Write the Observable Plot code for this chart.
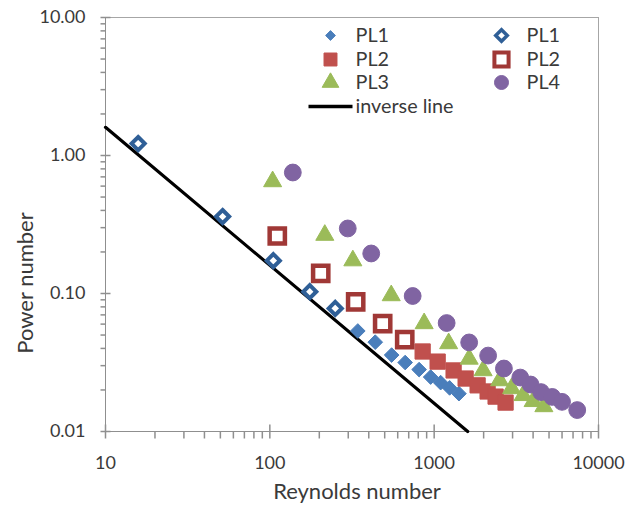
<!DOCTYPE html>
<html>
<head>
<meta charset="utf-8">
<script src="https://cdn.jsdelivr.net/npm/d3@7"></script>
<script src="https://cdn.jsdelivr.net/npm/@observablehq/plot@0.6"></script>
<style>
  html, body { margin: 0; padding: 0; background: #fff; }
  #chart { width: 635px; height: 505px; }
</style>
</head>
<body>
<div id="chart"></div>
<script>
// ---- data ----
const rePL1 = [343, 438, 551, 666, 810, 952, 1095, 1242, 1415];
const poPL1 = [0.0535, 0.0444, 0.0358, 0.0316, 0.0281, 0.0248, 0.0226, 0.0207, 0.0188];
const reOpenPL1 = [15.8, 51.6, 105, 175, 250];
const poOpenPL1 = [1.22, 0.361, 0.173, 0.103, 0.078];
const rePL2 = [851, 1050, 1313, 1554, 1838, 2115, 2365, 2720];
const poPL2 = [0.0380, 0.0321, 0.0277, 0.0242, 0.0216, 0.0195, 0.0179, 0.0162];
const reOpenPL2 = [111, 204, 333, 486, 662];
const poOpenPL2 = [0.261, 0.140, 0.0868, 0.0606, 0.0464];
const rePL3 = [104, 216, 320, 548, 869, 1225, 1633, 1986, 2502, 2959, 3476, 4000, 4651];
const poPL3 = [0.670, 0.274, 0.179, 0.100, 0.0627, 0.0449, 0.0347, 0.0286, 0.0242, 0.0212, 0.0189, 0.0171, 0.0157];
const rePL4 = [138, 298, 414, 740, 1191, 1633, 2130, 2657, 3342, 3861, 4472, 5230, 6000, 7422];
const poPL4 = [0.753, 0.296, 0.195, 0.0959, 0.0611, 0.0442, 0.0355, 0.0286, 0.0246, 0.0219, 0.0193, 0.0178, 0.0164, 0.0143];
const reInverse = [10, 1600];
const poInverse = [1.6, 0.01];

const xMajor = [10, 100, 1000, 10000];
const xTickLabels = ["10", "100", "1000", "10000"];
const yMajor = [0.01, 0.1, 1, 10];
const yTickLabels = ["0.01", "0.10", "1.00", "10.00"];
const xTitle = "Reynolds number";
const yTitle = "Power number";
const legendNames = ["PL1", "PL1", "PL2", "PL2", "PL3", "PL4"];
const legendLineName = "inverse line";

// ---- helpers ----
const zip = (xs, ys) => xs.map((x, i) => ({x, y: ys[i]}));
const minorTicks = (lo, hi) => {
  const out = [];
  for (let d = lo; d < hi; d *= 10) for (let k = 2; k <= 9; k++) out.push(+(d * k).toPrecision(3));
  return out;
};
const xMinor = minorTicks(10, 10000);
const yMinor = minorTicks(0.01, 10);

const axisColor = "#8f8f8f";
const textColor = "#3a3a3a";
const blue = "#4A7EBB", blueDark = "#2F5F97";
const red = "#C0504D", redDark = "#A03836";
const green = "#9BBB59", purple = "#8064A2";

// custom symbols (line segments) for ticks and legend line
const seg = (x1, y1, x2, y2) => ({draw(ctx) { ctx.moveTo(x1, y1); ctx.lineTo(x2, y2); }});
const xMajorTick = seg(0, -7, 0, 7);
const xMinorTick = seg(0, 0, 0, 7);
const yMajorTick = seg(-5, 0, 5, 0);
const yMinorTick = seg(-5, 0, 0, 0);
const legendLine = seg(-22, 0, 22, 0);

const legendItems = [
  {name: legendNames[0], symbol: "diamond2", r: 4.4, fill: blue, stroke: blue, sw: 1, col: 0, row: 0},
  {name: legendNames[1], symbol: "diamond2", r: 5.2, fill: "white", stroke: blueDark, sw: 3.5, col: 1, row: 0},
  {name: legendNames[2], symbol: "square", r: 7.3, fill: red, stroke: red, sw: 1, col: 0, row: 1},
  {name: legendNames[3], symbol: "square", r: 8.0, fill: "white", stroke: redDark, sw: 4, col: 1, row: 1},
  {name: legendNames[4], symbol: "triangle", r: 6.2, fill: green, stroke: green, sw: 1, col: 0, row: 2},
  {name: legendNames[5], symbol: "circle", r: 7.0, fill: purple, stroke: purple, sw: 1, col: 1, row: 2}
];
const colX = [225, 396], colTextX = [250, 421], rowY = [18, 42, 65, 89];
const legendFont = 19.8;

const legendMarks = legendItems.flatMap(it => [
  Plot.dot([it], {frameAnchor: "top-left", dx: colX[it.col], dy: rowY[it.row], symbol: it.symbol, r: it.r,
    fill: it.fill, stroke: it.stroke, strokeWidth: it.sw}),
  Plot.text([it], {frameAnchor: "top-left", dx: colTextX[it.col], dy: rowY[it.row], text: d => d.name,
    textAnchor: "start", lineAnchor: "middle", fontSize: legendFont, fill: textColor})
]);

const chart = Plot.plot({
  width: 635,
  height: 505,
  marginLeft: 105,
  marginRight: 37,
  marginTop: 17,
  marginBottom: 74,
  style: {fontFamily: "Lato, 'Noto Sans', sans-serif", background: "white", color: textColor},
  x: {type: "log", domain: [10, 10000], axis: null},
  y: {type: "log", domain: [0.01, 10], axis: null},
  marks: [
    // plot-area border and axes
    Plot.ruleY([10], {stroke: "#a6a6a6"}),
    Plot.ruleX([10000], {stroke: "#a6a6a6"}),
    Plot.ruleY([0.01], {stroke: axisColor}),
    Plot.ruleX([10], {stroke: axisColor}),
    Plot.dot(xMajor, {x: d => d, frameAnchor: "bottom", symbol: xMajorTick, r: 5, fill: "none", stroke: axisColor}),
    Plot.dot(xMinor, {x: d => d, frameAnchor: "bottom", symbol: xMinorTick, r: 5, fill: "none", stroke: axisColor}),
    Plot.dot(yMajor, {y: d => d, frameAnchor: "left", symbol: yMajorTick, r: 5, fill: "none", stroke: axisColor}),
    Plot.dot(yMinor, {y: d => d, frameAnchor: "left", symbol: yMinorTick, r: 5, fill: "none", stroke: axisColor}),
    Plot.text(xMajor, {x: d => d, text: xTickLabels, frameAnchor: "bottom", lineAnchor: "middle", textAnchor: "middle",
      dy: 32, fontSize: 18, fill: textColor}),
    Plot.text(yMajor, {y: d => d, text: yTickLabels, frameAnchor: "left", lineAnchor: "middle", dx: -20,
      textAnchor: "end", fontSize: 18, fill: textColor}),
    Plot.text([xTitle], {frameAnchor: "bottom", lineAnchor: "middle", textAnchor: "middle", dx: 5, dy: 60.5,
      fontSize: 22, fill: textColor}),
    Plot.text([yTitle], {frameAnchor: "left", lineAnchor: "middle", textAnchor: "middle", dx: -80, dy: 58.5,
      rotate: -90, fontSize: 22, fill: textColor}),
    // inverse line
    Plot.line(zip(reInverse, poInverse), {x: "x", y: "y", stroke: "black", strokeWidth: 3.2}),
    // series
    Plot.dot(zip(rePL1, poPL1), {x: "x", y: "y", symbol: "diamond2", r: 6.6, fill: blue, stroke: blue, strokeWidth: 1}),
    Plot.dot(zip(reOpenPL1, poOpenPL1), {x: "x", y: "y", symbol: "diamond2", r: 5.9, fill: "white", stroke: blueDark, strokeWidth: 4}),
    Plot.dot(zip(rePL2, poPL2), {x: "x", y: "y", symbol: "square", r: 8.6, fill: red, stroke: red, strokeWidth: 1}),
    Plot.dot(zip(reOpenPL2, poOpenPL2), {x: "x", y: "y", symbol: "square", r: 8.6, fill: "white", stroke: redDark, strokeWidth: 4.5}),
    Plot.dot(zip(rePL3, poPL3), {x: "x", y: "y", symbol: "triangle", r: 6.7, dy: 2, fill: green, stroke: green, strokeWidth: 1}),
    Plot.dot(zip(rePL4, poPL4), {x: "x", y: "y", symbol: "circle", r: 8.4, fill: purple, stroke: purple, strokeWidth: 1}),
    // legend
    ...legendMarks,
    Plot.dot([legendLineName], {frameAnchor: "top-left", dx: 225, dy: 89, symbol: legendLine, r: 5, fill: "none", stroke: "black", strokeWidth: 3.4}),
    Plot.text([legendLineName], {frameAnchor: "top-left", dx: 250, dy: 89, text: d => d, textAnchor: "start",
      lineAnchor: "middle", fontSize: legendFont, fill: textColor})
  ]
});
document.getElementById("chart").appendChild(chart);
</script>
</body>
</html>
